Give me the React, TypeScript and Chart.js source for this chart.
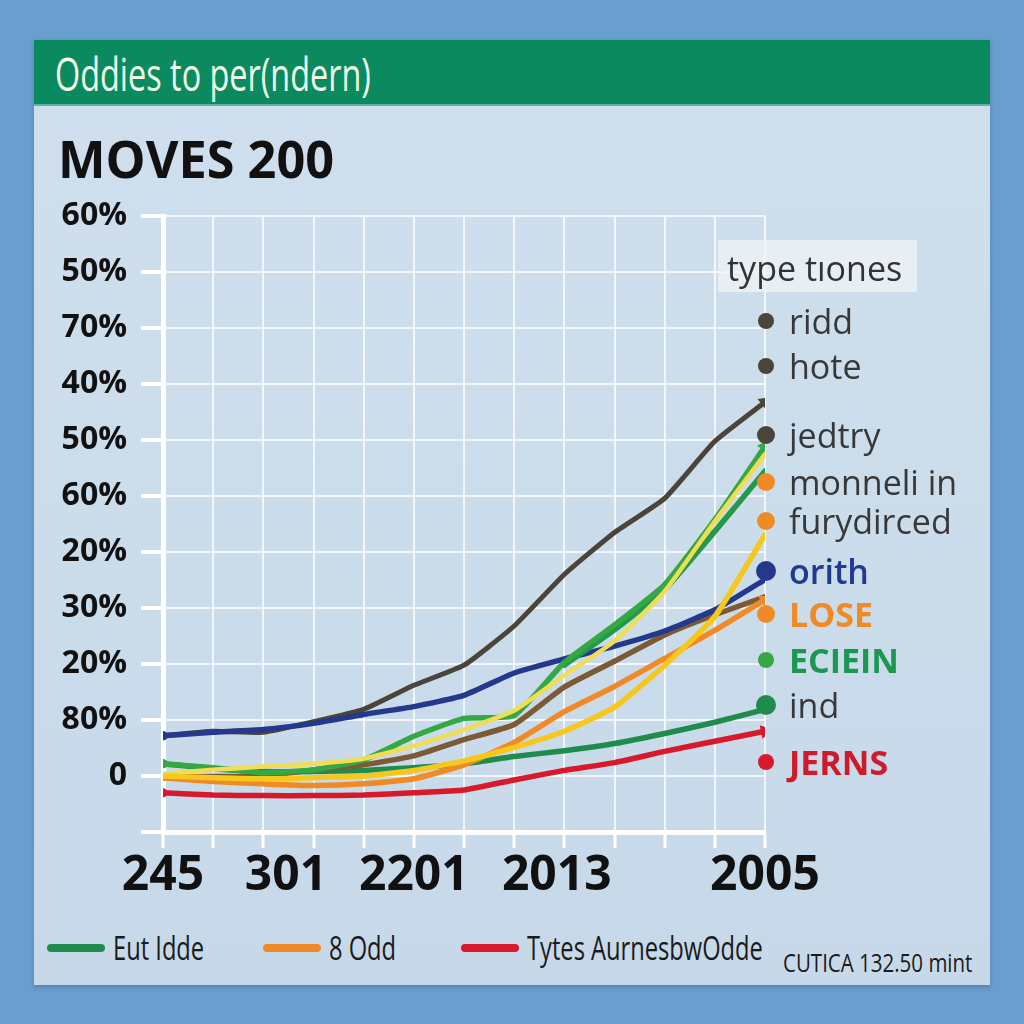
import React, { useEffect, useRef } from 'react';
import { Chart, registerables } from 'chart.js';

Chart.register(...registerables);

// ---------- data ----------
const X_INDEX = [0, 1, 2, 3, 4, 5, 6, 7, 8, 9, 10, 11, 12];
const X_TICK_VALUES = [0, 2.45, 5, 7.85, 12];
const X_TICK_LABELS = ['245', '301', '2201', '2013', '2005'];
const Y_TICK_LABELS = ['', '0', '80%', '20%', '30%', '20%', '60%', '50%', '40%', '70%', '50%', '60%'];

const DARK = [1.72, 1.8, 1.78, 1.97, 2.19, 2.62, 2.98, 3.68, 4.6, 5.35, 5.96, 6.98, 7.68];
const BLUE = [1.72, 1.78, 1.83, 1.94, 2.1, 2.24, 2.44, 2.84, 3.09, 3.32, 3.59, 3.97, 4.51];
const GREEN_UP = [1.22, 1.15, 1.06, 1.11, 1.29, 1.71, 2.03, 2.08, 3.03, 3.7, 4.42, 5.58, 6.89];
const GREEN_MID = [null, null, null, null, null, null, null, null, 2.98, 3.61, 4.33, 5.37, 6.45];
const GREEN_FLAT = [1.22, 1.13, 1.08, 1.08, 1.1, 1.15, 1.22, 1.35, 1.45, 1.58, 1.76, 1.96, 2.19];
const YELLOW_UP = [1.04, 1.11, 1.17, 1.22, 1.31, 1.54, 1.83, 2.17, 2.8, 3.41, 4.3, 5.55, 6.75];
const YELLOW_LOW = [1.0, 0.97, 0.95, 0.97, 1.0, 1.1, 1.27, 1.51, 1.8, 2.23, 2.98, 3.85, 5.31];
const BROWN = [0.97, 0.99, 1.0, 1.11, 1.2, 1.36, 1.65, 1.92, 2.59, 3.05, 3.52, 3.88, 4.2];
const ORANGE = [0.97, 0.9, 0.86, 0.83, 0.86, 0.95, 1.2, 1.6, 2.15, 2.6, 3.1, 3.6, 4.15];
const RED = [0.7, 0.66, 0.65, 0.65, 0.66, 0.7, 0.75, 0.93, 1.1, 1.24, 1.44, 1.62, 1.8];

const LEGEND_TITLE = 'type tıones';
const LEGEND_LABELS = ['ridd', 'hote', 'jedtry', 'monneli in', 'furydirced', 'orith', 'LOSE', 'ECIEIN', 'ind', 'JERNS'];
const BOTTOM_LABELS = ['Eut Idde', '8 Odd', 'Tytes AurnesbwOdde'];
const FOOTNOTE = 'CUTICA 132.50 mint';
const HEADER = 'Oddies to per(ndern)';
const TITLE = 'MOVES 200';

// ---------- styles ----------
const C_DARK = '#4a4538';
const C_BLUE = '#24398c';
const C_GREEN = '#35a844';
const C_GREEN2 = '#23994a';
const C_GREEN_FLAT = '#1f8c4e';
const C_YELLOW = '#f0dc55';
const C_YELLOW2 = '#f6c81e';
const C_BROWN = '#7c5a36';
const C_ORANGE = '#f08a26';
const C_RED = '#d8192b';

const LEGEND_STYLE = [
  { dot: C_DARK, color: '#383838', weight: 400, y: 321, r: 8 },
  { dot: C_DARK, color: '#383838', weight: 400, y: 366, r: 8 },
  { dot: C_DARK, color: '#383838', weight: 400, y: 435, r: 9 },
  { dot: C_ORANGE, color: '#383838', weight: 400, y: 482, r: 9 },
  { dot: C_ORANGE, color: '#383838', weight: 400, y: 521, r: 9 },
  { dot: C_BLUE, color: '#1f3a8f', weight: 600, y: 571, r: 10 },
  { dot: C_ORANGE, color: '#ef8a24', weight: 700, y: 614, r: 9 },
  { dot: C_GREEN, color: '#1c9650', weight: 700, y: 660, r: 8 },
  { dot: C_GREEN_FLAT, color: '#383838', weight: 400, y: 705, r: 10 },
  { dot: C_RED, color: '#cf1a2c', weight: 700, y: 762, r: 8 },
];
const BOTTOM_STYLE = [
  { color: C_GREEN_FLAT, x: 47 },
  { color: C_ORANGE, x: 263 },
  { color: C_RED, x: 461 },
];

const SANS = '"Open Sans", sans-serif';

function arrowRotation(ctx: any) {
  const i = ctx.dataIndex;
  const d = ctx.dataset.data;
  if (i < 1 || d[i - 1] == null) return 0;
  const xs = ctx.chart.scales.x;
  const ys = ctx.chart.scales.y;
  const dx = xs.getPixelForValue(X_INDEX[i]) - xs.getPixelForValue(X_INDEX[i - 1]);
  const dy = ys.getPixelForValue(d[i]) - ys.getPixelForValue(d[i - 1]);
  return (Math.atan2(dy, dx) * 180) / Math.PI + 90;
}

function ds(label: string, data: (number | null)[], color: string, arrow: boolean, startDot: boolean, width = 5.5) {
  const last = data.length - 1;
  return {
    label,
    data,
    borderColor: color,
    backgroundColor: color,
    borderWidth: width,
    borderCapStyle: 'round',
    borderJoinStyle: 'round',
    tension: 0.15,
    fill: false,
    pointBorderWidth: 0,
    pointBackgroundColor: color,
    pointStyle: (c: any) => (c.dataIndex === last && arrow ? 'triangle' : 'circle'),
    pointRadius: (c: any) => (c.dataIndex === last && arrow ? 8 : c.dataIndex === 0 && startDot ? 4.5 : 0),
    pointRotation: (c: any) => (c.dataIndex === last && arrow ? arrowRotation(c) : 0),
  };
}

function Narrow({ text, left, top, size, scale, color, height, weight = 400 }: any) {
  return (
    <div
      style={{
        position: 'absolute',
        left,
        top,
        height,
        lineHeight: height + 'px',
        fontFamily: SANS,
        fontSize: size,
        fontWeight: weight,
        color,
        whiteSpace: 'nowrap',
        transform: `scaleX(${scale})`,
        transformOrigin: 'left center',
      }}
    >
      {text}
    </div>
  );
}

export default function App() {
  const canvasRef = useRef<HTMLCanvasElement | null>(null);

  useEffect(() => {
    if (!canvasRef.current) return;
    const chart = new Chart(canvasRef.current, {
      type: 'line',
      data: {
        labels: X_INDEX,
        datasets: [
          ds('yellow low', YELLOW_LOW, C_YELLOW2, false, false),
          ds('orange', ORANGE, C_ORANGE, true, false),
          ds('yellow up', YELLOW_UP, C_YELLOW, false, false, 4.5),
          ds('green up', GREEN_UP, C_GREEN, true, true),
          ds('green mid', GREEN_MID, C_GREEN2, false, false),
          ds('blue', BLUE, C_BLUE, false, true),
          ds('brown', BROWN, C_BROWN, false, false),
          ds('dark', DARK, C_DARK, true, true, 5),
          ds('green flat', GREEN_FLAT, C_GREEN_FLAT, false, true),
          ds('red', RED, C_RED, true, true),
        ] as any,
      },
      options: {
        animation: false,
        responsive: true,
        maintainAspectRatio: false,
        layout: { autoPadding: false, padding: { left: 0, top: 12, right: 259, bottom: 0 } } as any,
        plugins: { legend: { display: false }, tooltip: { enabled: false }, title: { display: false } },
        scales: {
          x: {
            type: 'linear',
            min: 0,
            max: 12,
            position: 'bottom',
            ticks: { stepSize: 1, callback: () => '', padding: 0 },
            grid: { color: 'rgba(255,255,255,0.75)', lineWidth: 2, tickLength: 16, tickColor: '#ffffff', tickWidth: 3 },
            border: { display: true, color: '#ffffff', width: 5 },
            afterFit: (s: any) => { s.height = 16; },
          },
          x2: {
            type: 'linear',
            min: 0,
            max: 12,
            position: 'bottom',
            afterBuildTicks: (s: any) => { s.ticks = X_TICK_VALUES.map((v) => ({ value: v })); },
            ticks: {
              autoSkip: false,
              maxRotation: 0,
              padding: -8,
              color: '#111111',
              font: { family: SANS, size: 48, weight: 'bold', style: 'condensed' },
              callback: (v: any) => {
                const k = X_TICK_VALUES.indexOf(Number(v));
                return k >= 0 ? X_TICK_LABELS[k] : '';
              },
            },
            grid: { display: false },
            border: { display: false },
            afterFit: (s: any) => { s.height = 62; },
          },
          y: {
            type: 'linear',
            min: 0,
            max: 11,
            ticks: {
              stepSize: 1,
              padding: 14,
              color: '#111111',
              font: { family: SANS, size: 32, weight: 'bold' },
              callback: (v: any) => Y_TICK_LABELS[Number(v)] ?? '',
            },
            grid: { color: 'rgba(255,255,255,0.75)', lineWidth: 2, tickLength: 22, tickColor: '#ffffff', tickWidth: 4 },
            border: { display: true, color: '#ffffff', width: 5 },
            afterFit: (s: any) => { s.width = 163; },
          },
        },
      } as any,
    });
    return () => chart.destroy();
  }, []);

  return (
    <div
      style={{
        position: 'absolute',
        left: 0,
        top: 0,
        width: 1024,
        height: 1024,
        overflow: 'hidden',
        background: '#6a9ecf',
        fontFamily: SANS,
      }}
    >
      <div
        style={{
          position: 'absolute',
          left: 34,
          top: 40,
          width: 956,
          height: 945,
          background: 'linear-gradient(180deg, #cfdfed 0%, #c7d9e9 100%)',
          boxShadow: '0 2px 4px rgba(40,70,110,0.35)',
        }}
      />
      <div
        style={{
          position: 'absolute',
          left: 34,
          top: 40,
          width: 956,
          height: 64,
          background: '#0c8a5f',
          borderBottom: '2px solid #5fb0a0',
        }}
      />
      <Narrow text={HEADER} left={55} top={47} height={54} size={45} scale={0.72} color="#eefbe6" />
      <div
        style={{
          position: 'absolute',
          left: 58,
          top: 126,
          height: 64,
          lineHeight: '64px',
          color: '#111111',
          fontWeight: 700,
          fontSize: 52,
          whiteSpace: 'nowrap',
          transform: 'scaleX(0.97)',
          transformOrigin: 'left center',
        }}
      >
        {TITLE}
      </div>

      <div style={{ position: 'absolute', left: 0, top: 183, width: 1024, height: 727 }}>
        <canvas ref={canvasRef} />
      </div>

      {/* right legend */}
      <div
        style={{
          position: 'absolute',
          left: 718,
          top: 240,
          width: 199,
          height: 52,
          background: 'rgba(238,242,246,0.8)',
        }}
      />
      <div
        style={{
          position: 'absolute',
          left: 727,
          top: 245,
          height: 46,
          lineHeight: '46px',
          fontSize: 34,
          color: '#333333',
          whiteSpace: 'nowrap',
        }}
      >
        {LEGEND_TITLE}
      </div>
      {LEGEND_LABELS.map((lab, i) => {
        const st = LEGEND_STYLE[i];
        return (
          <React.Fragment key={lab}>
            <div
              style={{
                position: 'absolute',
                left: 766 - st.r,
                top: st.y - st.r,
                width: st.r * 2,
                height: st.r * 2,
                borderRadius: '50%',
                background: st.dot,
              }}
            />
            <div
              style={{
                position: 'absolute',
                left: 789,
                top: st.y - 23,
                height: 46,
                lineHeight: '46px',
                fontSize: 34,
                fontWeight: st.weight,
                color: st.color,
                whiteSpace: 'nowrap',
              }}
            >
              {lab}
            </div>
          </React.Fragment>
        );
      })}

      {/* bottom legend */}
      {BOTTOM_LABELS.map((lab, i) => {
        const st = BOTTOM_STYLE[i];
        return (
          <React.Fragment key={lab}>
            <div
              style={{
                position: 'absolute',
                left: st.x,
                top: 944,
                width: 58,
                height: 8,
                borderRadius: 4,
                background: st.color,
              }}
            />
            <Narrow text={lab} left={st.x + 66} top={926} height={44} size={32} scale={0.74} color="#1b1b1b" />
          </React.Fragment>
        );
      })}
      <Narrow text={FOOTNOTE} left={783} top={945} height={34} size={25} scale={0.82} color="#1b1b1b" />
    </div>
  );
}
